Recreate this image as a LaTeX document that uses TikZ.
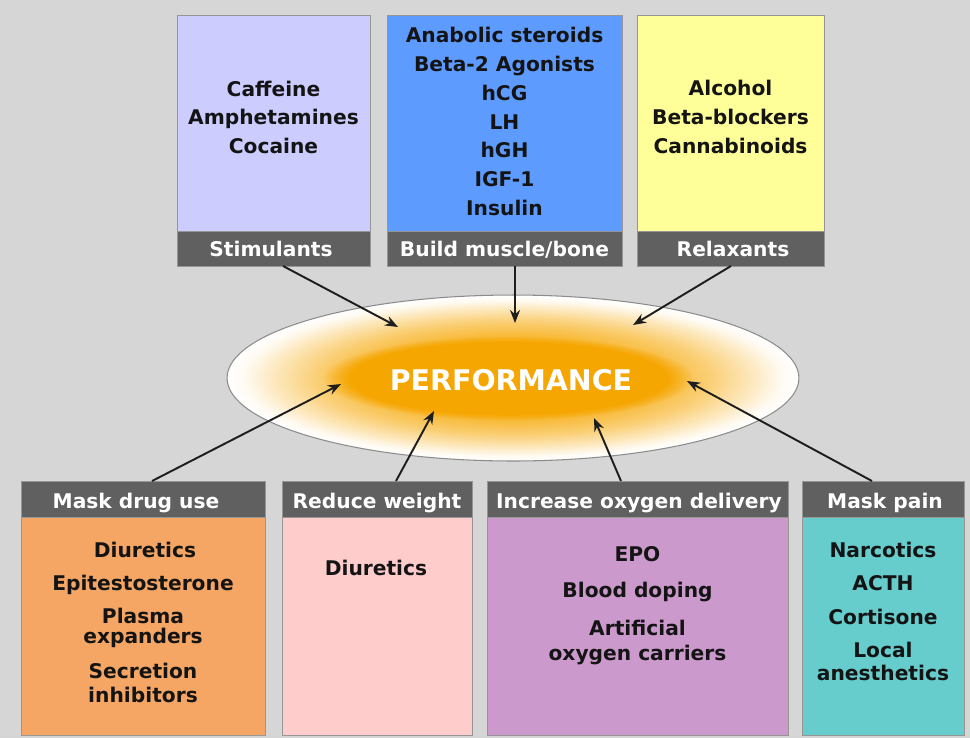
\documentclass[tikz,border=0pt]{standalone}
\usepackage{fontspec}
\setmainfont{DejaVu Sans}
\usetikzlibrary{arrows.meta,fadings,shapes.geometric}
\definecolor{bg}{RGB}{214,214,214}
\definecolor{boxline}{RGB}{150,150,150}
\definecolor{hdrc}{RGB}{96,96,96}
\definecolor{stimc}{RGB}{204,204,255}
\definecolor{buildc}{RGB}{94,155,255}
\definecolor{relaxc}{RGB}{255,255,153}
\definecolor{maskc}{RGB}{245,165,100}
\definecolor{weightc}{RGB}{255,204,204}
\definecolor{oxyc}{RGB}{204,153,204}
\definecolor{painc}{RGB}{102,204,204}
\definecolor{pcore}{RGB}{246,166,0}
\definecolor{arrc}{RGB}{30,30,30}
\definecolor{ellline}{RGB}{140,140,140}
\pgfdeclareradialshading{perfshade}{\pgfpoint{0bp}{0bp}}{%
  color(0bp)=(pcore); color(12bp)=(pcore!82!white); color(17bp)=(pcore!55!white);
  color(21bp)=(pcore!25!white); color(23.5bp)=(pcore!5!white); color(25bp)=(white); color(50bp)=(white)}
\begin{document}
\begin{tikzpicture}[x=0.02cm,y=-0.02cm,
  box/.style={draw=boxline, line width=0.5pt, inner sep=0pt, outer sep=0pt, rectangle},
  hdr/.style={box, fill=hdrc},
  itm/.style={font=\fontsize{11.5}{12}\selectfont\bfseries, text=black!92, inner sep=0pt, anchor=base},
  htxt/.style={itm, text=white},
  arr/.style={-{Stealth[length=0.26cm,width=0.2cm]}, line width=1.1pt, draw=arrc}]
\useasboundingbox (0,0) rectangle (970,738);
\fill[bg] (0,0) rectangle (970,738);

% ---- top boxes ----
\node[box, fill=stimc, minimum width=3.86cm, minimum height=4.32cm] (stim) at (273.5,123) {};
\node[hdr, minimum width=3.86cm, minimum height=0.70cm] (stimh) at (273.5,248.5) {};
\node[htxt] (stimt) at (271,256) {Stimulants};
\node[itm] (s1) at (273.5,96) {Caffeine};
\node[itm] (s2) at (273.5,124.5) {Amphetamines};
\node[itm] (s3) at (273.5,153) {Cocaine};

\node[box, fill=buildc, minimum width=4.70cm, minimum height=4.32cm] (build) at (504.5,123) {};
\node[hdr, minimum width=4.70cm, minimum height=0.70cm] (buildh) at (504.5,248.5) {};
\node[htxt] (buildt) at (504.5,256) {Build muscle/bone};
\node[itm] (b1) at (504.5,42) {Anabolic steroids};
\node[itm] (b2) at (504.5,71) {Beta-2 Agonists};
\node[itm] (b3) at (504.5,100) {hCG};
\node[itm] (b4) at (504.5,129) {LH};
\node[itm] (b5) at (504.5,157.5) {hGH};
\node[itm] (b6) at (504.5,186) {IGF-1};
\node[itm] (b7) at (504.5,215) {Insulin};

\node[box, fill=relaxc, minimum width=3.74cm, minimum height=4.32cm] (relax) at (730.5,123) {};
\node[hdr, minimum width=3.74cm, minimum height=0.70cm] (relaxh) at (730.5,248.5) {};
\node[htxt] (relaxt) at (733,256) {Relaxants};
\node[itm] (r1) at (730.5,95.5) {Alcohol};
\node[itm] (r2) at (730.5,124.5) {Beta-blockers};
\node[itm] (r3) at (730.5,153) {Cannabinoids};

% ---- bottom boxes ----
\node[box, fill=maskc, minimum width=4.88cm, minimum height=4.36cm] (mask) at (143,626) {};
\node[hdr, minimum width=4.88cm, minimum height=0.72cm] (maskh) at (143,499) {};
\node[htxt] (maskt) at (136,508) {Mask drug use};
\node[itm] (m1) at (145,557) {Diuretics};
\node[itm] (m2) at (143,590) {Epitestosterone};
\node[itm] (m3) at (143,623) {Plasma};
\node[itm] (m4) at (143,643) {expanders};
\node[itm] (m5) at (143,678) {Secretion};
\node[itm] (m6) at (143,702) {inhibitors};

\node[box, fill=weightc, minimum width=3.80cm, minimum height=4.36cm] (weight) at (377,626) {};
\node[hdr, minimum width=3.80cm, minimum height=0.72cm] (weighth) at (377,499) {};
\node[htxt] (weightt) at (377,508) {Reduce weight};
\node[itm] (w1) at (376,575) {Diuretics};

\node[box, fill=oxyc, minimum width=6.02cm, minimum height=4.36cm] (oxy) at (637.5,626) {};
\node[hdr, minimum width=6.02cm, minimum height=0.72cm] (oxyh) at (637.5,499) {};
\node[htxt] (oxyt) at (639,508) {Increase oxygen delivery};
\node[itm] (o1) at (637.5,561) {EPO};
\node[itm] (o2) at (637.5,597) {Blood doping};
\node[itm] (o3) at (637.5,635) {Artificial};
\node[itm] (o4) at (637.5,660) {oxygen carriers};

\node[box, fill=painc, minimum width=3.24cm, minimum height=4.36cm] (pain) at (883,626) {};
\node[hdr, minimum width=3.24cm, minimum height=0.72cm] (painh) at (883,499) {};
\node[htxt] (paint) at (885,508) {Mask pain};
\node[itm] (p1) at (883,557) {Narcotics};
\node[itm] (p2) at (883,590) {ACTH};
\node[itm] (p3) at (883,624) {Cortisone};
\node[itm] (p4) at (883,657) {Local};
\node[itm] (p5) at (883,680) {anesthetics};

% ---- performance ellipse ----
\node[ellipse, draw=ellline, line width=0.6pt, shading=perfshade, inner sep=0pt,
      minimum width=11.44cm, minimum height=3.32cm] (perf) at (513,378) {};
\fill[pcore, path fading=circle with fuzzy edge 15 percent] (508,378) ellipse [x radius=3.7cm, y radius=0.84cm];
\node[font=\fontsize{16.2}{18}\selectfont\bfseries, text=white, inner sep=0pt] (perft) at (511,380) {PERFORMANCE};

% ---- arrow end points ----
\coordinate (e1) at (398,327);
\coordinate (e2) at (515,323);
\coordinate (e3) at (633,325);
\coordinate (e4) at (341,384);
\coordinate (e5) at (434,411);
\coordinate (e6) at (594,418);
\coordinate (e7) at (687,381);

\draw[arr] ([xshift=0.19cm]stimh.south) -- (e1);
\draw[arr] ([xshift=0.21cm]buildh.south) -- (e2);
\draw[arr] ([xshift=0.01cm]relaxh.south) -- (e3);
\draw[arr] ([xshift=0.18cm]maskh.north) -- (e4);
\draw[arr] ([xshift=0.38cm]weighth.north) -- (e5);
\draw[arr] ([xshift=-0.33cm]oxyh.north) -- (e6);
\draw[arr] ([xshift=-0.22cm]painh.north) -- (e7);
\end{tikzpicture}
\end{document}
